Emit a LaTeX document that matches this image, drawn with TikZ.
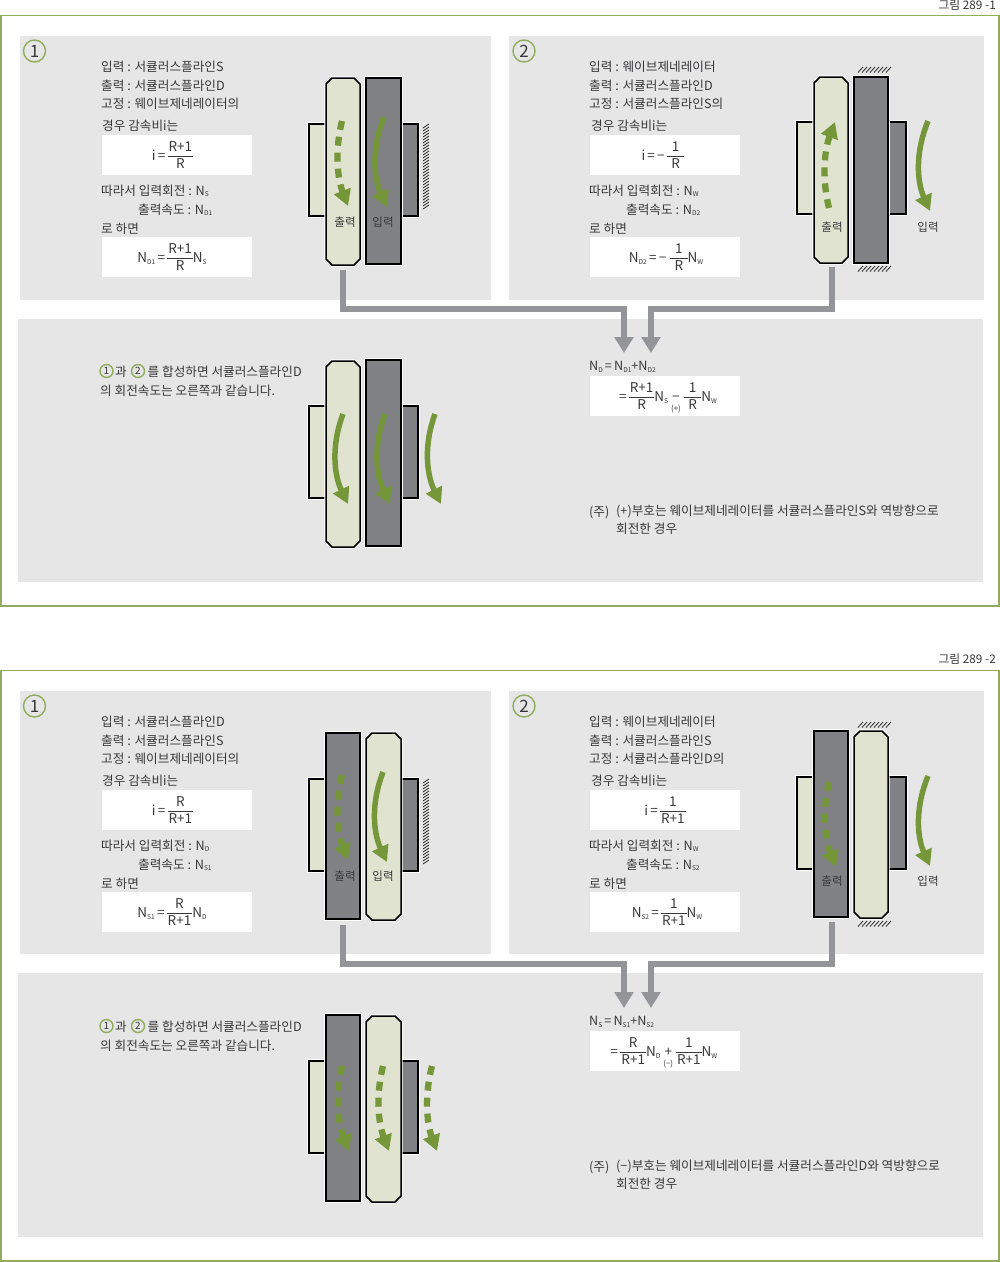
\documentclass[tikz,border=0pt]{standalone}
\usepackage{fontspec}
\setmainfont{Noto Sans CJK KR}
\usetikzlibrary{arrows.meta,calc}
\definecolor{panelgray}{HTML}{E6E6E6}
\definecolor{framegreen}{HTML}{93AB5E}
\definecolor{arrowgreen}{HTML}{76963A}
\definecolor{partlight}{HTML}{E0E3CF}
\definecolor{partdark}{HTML}{808285}
\definecolor{connectgray}{HTML}{939598}
\definecolor{inktext}{HTML}{38383A}
\newcommand\Nn[1]{N\raisebox{-0.15em}{\fontsize{6.6}{6.6}\selectfont #1}}
\newcommand\fr[2]{$\vcenter{\hbox{\renewcommand\arraystretch{1}\arrayrulewidth=0.5pt\begin{tabular}{@{\kern1pt}c@{\kern1pt}}#1\\\hline #2\end{tabular}}}$}
\newcommand\sgn[2]{\kern3pt\mbox{\ooalign{\hfil #1\hfil\cr\hfil\raisebox{-10pt}{\fontsize{8}{8}\selectfont #2}\hfil\cr}}\kern3pt}
\tikzset{
  txt/.style={anchor=west,inner sep=0pt,yshift=-1.5pt,text=inktext,font=\fontsize{12.65}{16}\selectfont,text height=9.5pt,text depth=2.5pt},
  labeltxt/.style={anchor=center,inner sep=0pt,text=inktext,font=\fontsize{11.5}{14}\selectfont},
  formula/.style={anchor=center,inner sep=0pt,yshift=-1.5pt,text=inktext,font=\fontsize{13.5}{16.5}\selectfont},
  panel/.style={fill=panelgray,draw=none},
  whitebox/.style={fill=white,draw=none},
  frameline/.style={draw=framegreen,line width=1.8pt},
  lightpart/.style={fill=partlight,draw=black,line width=1.5pt,line join=miter,preaction={draw=white,line width=3.3pt}},
  darkpart/.style={fill=partdark,draw=black,line width=1.5pt,line join=miter,preaction={draw=white,line width=3.3pt}},
  hatchline/.style={draw=black!85,line width=0.8pt},
  solidturn/.style={draw=arrowgreen,line width=5.5pt,-{Triangle[length=16pt,width=17pt]}},
  dashturn/.style={draw=arrowgreen,line width=6.3pt,dash pattern=on 9pt off 7pt,-{Triangle[length=16pt,width=17pt]}},
  grayconn/.style={draw=connectgray,line width=6pt,line join=miter,-{Triangle[length=16pt,width=18.5pt]}},
  bignum/.style={circle,draw=framegreen,line width=1.4pt,minimum size=22pt,inner sep=0pt,text=inktext,font=\fontsize{17}{17}\selectfont},
  smallnum/.style={circle,draw=framegreen,line width=1.4pt,minimum size=13pt,inner sep=0pt,text=inktext,font=\fontsize{10}{10}\selectfont},
}
% octagon body: x1 y1 x2 y2
\newcommand\octbody[4]{\path[lightpart] (#1+6,#2) -- (#3-6,#2) -- (#3,#2+6) -- (#3,#4-6) -- (#3-6,#4) -- (#1+6,#4) -- (#1,#4-6) -- (#1,#2+6) -- cycle;}
% curved arrow: style, start, tip, bow
\newcommand\turn[6]{\draw[#1] (#2,#3) .. controls ($(#2,#3)!0.33!(#4,#5)+(#6,0)$) and ($(#2,#3)!0.66!(#4,#5)+(#6,0)$) .. (#4,#5);}
% hatch strips: position, start, number of strokes
\newcommand\vhatch[3]{\foreach \h in {0,...,#3}{\draw[hatchline] (#1,#2+3*\h+4) -- (#1+6,#2+3*\h);}}
\newcommand\hhatch[3]{\foreach \h in {0,...,#2}{\draw[hatchline] (#1+4*\h,#3+5.5) -- (#1+4*\h+5,#3);}}
\begin{document}
\begin{tikzpicture}[x=1pt,y=-1pt]
\useasboundingbox (0,0) rectangle (1000,1262);
\fill[white] (0,0) rectangle (1000,1262);

%%%%%%%%%%%%%%%%%% FIGURE 1
\node[anchor=east,inner sep=0pt,text=inktext,font=\fontsize{11.8}{13}\selectfont] (capA) at (996,5) {그림 289 -1};
\draw[frameline] (1,15.5) rectangle (999,606);
\fill[panel] (20,36) rectangle (491,299.5);
\fill[panel] (509,36) rectangle (983.5,299.5);
\fill[panel] (18,318.5) rectangle (983,582);

\node[bignum] (a1) at (34.5,51) {1};
\node[bignum] (a2) at (524,51) {2};

% panel 1 text
\node[txt] (a1t1) at (101,66) {입력 : 서큘러스플라인S};
\node[txt] (a1t2) at (101,85) {출력 : 서큘러스플라인D};
\node[txt] (a1t3) at (101,103) {고정 : 웨이브제네레이터의};
\node[txt] (a1t4) at (102,125.5) {경우 감속비i는};
\fill[whitebox] (101.5,135) rectangle (252,175);
\node[formula] (a1f1) at (172.5,155) {i\,=\,\fr{R+1}{R}};
\node[txt] (a1t5) at (101,190) {따라서 입력회전 : \Nn{S}};
\node[txt] (a1t6) at (138,209) {출력속도 : \Nn{D1}};
\node[txt] (a1t7) at (101,228) {로 하면};
\fill[whitebox] (101.5,237) rectangle (252,277);
\node[formula] (a1f2) at (172,257) {\Nn{D1}\,=\,\fr{R+1}{R}\Nn{S}};

% panel 1 gears
\draw[lightpart] (309,124) rectangle (326,216);
\octbody{326}{78}{360}{265}
\draw[darkpart] (401,124) rectangle (418,216);
\draw[darkpart] (366,78) rectangle (401,264);
\vhatch{423}{124}{27}
\turn{dashturn}{342}{121}{348}{206}{-9}
\turn{solidturn}{384}{117}{387}{207}{-13}
\node[labeltxt] (a1l1) at (345,222) {출력};
\node[labeltxt] (a1l2) at (383,222) {입력};

% panel 2 text
\node[txt] (a2t1) at (589,66) {입력 : 웨이브제네레이터};
\node[txt] (a2t2) at (589,85) {출력 : 서큘러스플라인D};
\node[txt] (a2t3) at (589,103) {고정 : 서큘러스플라인S의};
\node[txt] (a2t4) at (591,125.5) {경우 감속비i는};
\fill[whitebox] (589.5,135) rectangle (740,175);
\node[formula] (a2f1) at (663,155) {i\,=\,−\,\fr{\kern4pt 1\kern4pt}{R}};
\node[txt] (a2t5) at (589,190) {따라서 입력회전 : \Nn{W}};
\node[txt] (a2t6) at (626,209) {출력속도 : \Nn{D2}};
\node[txt] (a2t7) at (589,228) {로 하면};
\fill[whitebox] (589.5,237) rectangle (740,277);
\node[formula] (a2f2) at (666,257) {\Nn{D2}\,=\,−\;\fr{\kern4pt 1\kern4pt}{R}\Nn{W}};

% panel 2 gears
\draw[lightpart] (797,122) rectangle (814,214);
\octbody{814}{77}{848}{263}
\draw[darkpart] (888,122) rectangle (906,214);
\draw[darkpart] (854,77) rectangle (888,263);
\hhatch{858}{7}{67}
\hhatch{858}{7}{266}
\turn{dashturn}{829}{208}{835}{122}{-9}
\turn{solidturn}{928}{121}{930}{211}{-13}
\node[labeltxt] (a2l1) at (832,227) {출력};
\node[labeltxt] (a2l2) at (928,227) {입력};

% connectors
\coordinate (a1out) at (342.5,270);
\coordinate (a1in) at (624,353);
\coordinate (a2out) at (831.5,267);
\coordinate (a2in) at (651,353);
\draw[grayconn] (a1out) |- (624,309) -- (a1in);
\draw[grayconn] (a2out) |- (651,309) -- (a2in);

% bottom panel
\node[smallnum] (a3n1) at (106.5,371) {1};
\node[txt] (a3t0) at (115,371) {과};
\node[smallnum] (a3n2) at (138,371) {2};
\node[txt] (a3t1) at (147.5,371) {를 합성하면 서큘러스플라인D};
\node[txt] (a3t2) at (100,390) {의 회전속도는 오른쪽과 같습니다.};
\draw[lightpart] (309,406) rectangle (326,498);
\octbody{326}{361}{360}{547}
\draw[darkpart] (401,406) rectangle (418,498);
\draw[darkpart] (366,360) rectangle (401,546);
\turn{solidturn}{343}{414}{348}{504}{-13}
\turn{solidturn}{385}{414}{390}{504}{-13}
\turn{solidturn}{435}{414}{441}{504}{-13}

\node[txt] (a3f0) at (589,365.5) {\Nn{D}\,=\,\Nn{D1}+\Nn{D2}};
\fill[whitebox] (589.5,375.5) rectangle (740,416);
\node[formula] (a3f1) at (668,396) {=\,\fr{R+1}{R}\Nn{S}\sgn{−}{(+)}\fr{\kern4pt 1\kern4pt}{R}\Nn{W}};
\node[txt] (a3n) at (589,511) {(주)};
\node[txt] (a3c1) at (616,510) {(+)부호는 웨이브제네레이터를 서큘러스플라인S와 역방향으로};
\node[txt] (a3c2) at (616,528) {회전한 경우};

%%%%%%%%%%%%%%%%%% FIGURE 2
\begin{scope}[yshift=-655pt]
\node[anchor=east,inner sep=0pt,text=inktext,font=\fontsize{11.8}{13}\selectfont] (capB) at (996,4.5) {그림 289 -2};
\draw[frameline] (1,15.5) rectangle (999,606);
\fill[panel] (20,36) rectangle (491,299);
\fill[panel] (509,36) rectangle (983.5,299);
\fill[panel] (18,318) rectangle (983,582);

\node[bignum] (b1) at (34.5,51) {1};
\node[bignum] (b2) at (524,51) {2};

\node[txt] (b1t1) at (101,66) {입력 : 서큘러스플라인D};
\node[txt] (b1t2) at (101,85) {출력 : 서큘러스플라인S};
\node[txt] (b1t3) at (101,103) {고정 : 웨이브제네레이터의};
\node[txt] (b1t4) at (102,125.5) {경우 감속비i는};
\fill[whitebox] (101.5,135) rectangle (252,175);
\node[formula] (b1f1) at (172.5,155) {i\,=\,\fr{R}{R+1}};
\node[txt] (b1t5) at (101,190) {따라서 입력회전 : \Nn{D}};
\node[txt] (b1t6) at (138,209) {출력속도 : \Nn{S1}};
\node[txt] (b1t7) at (101,228) {로 하면};
\fill[whitebox] (101.5,237) rectangle (252,277);
\node[formula] (b1f2) at (172,257) {\Nn{S1}\,=\,\fr{R}{R+1}\Nn{D}};

\draw[lightpart] (309,124) rectangle (326,216);
\draw[darkpart] (326,78) rectangle (360,264);
\draw[darkpart] (401,124) rectangle (418,216);
\octbody{366}{78}{401}{265}
\vhatch{423}{124}{27}
\turn{dashturn}{342}{120}{348}{205}{-9}
\turn{solidturn}{383}{117}{387}{207}{-13}
\node[labeltxt] (b1l1) at (345,221) {출력};
\node[labeltxt] (b1l2) at (383,221) {입력};

\node[txt] (b2t1) at (589,66) {입력 : 웨이브제네레이터};
\node[txt] (b2t2) at (589,85) {출력 : 서큘러스플라인S};
\node[txt] (b2t3) at (589,103) {고정 : 서큘러스플라인D의};
\node[txt] (b2t4) at (591,125.5) {경우 감속비i는};
\fill[whitebox] (589.5,135) rectangle (740,175);
\node[formula] (b2f1) at (665,155) {i\,=\,\fr{1}{R+1}};
\node[txt] (b2t5) at (589,190) {따라서 입력회전 : \Nn{W}};
\node[txt] (b2t6) at (626,209) {출력속도 : \Nn{S2}};
\node[txt] (b2t7) at (589,228) {로 하면};
\fill[whitebox] (589.5,237) rectangle (740,277);
\node[formula] (b2f2) at (667,257) {\Nn{S2}\,=\,\fr{1}{R+1}\Nn{W}};

\draw[lightpart] (797,122) rectangle (814,214);
\draw[darkpart] (814,76) rectangle (848,262);
\draw[darkpart] (888,122) rectangle (906,214);
\octbody{854}{76}{888}{263}
\hhatch{858}{7}{67}
\hhatch{858}{7}{266}
\turn{dashturn}{829}{127}{836}{212}{-9}
\turn{solidturn}{928}{121}{930}{211}{-13}
\node[labeltxt] (b2l1) at (832,226) {출력};
\node[labeltxt] (b2l2) at (928,226) {입력};

\coordinate (b1out) at (342.5,270);
\coordinate (b1in) at (624,353);
\coordinate (b2out) at (831.5,267);
\coordinate (b2in) at (651,353);
\draw[grayconn] (b1out) |- (624,309) -- (b1in);
\draw[grayconn] (b2out) |- (651,309) -- (b2in);

\node[smallnum] (b3n1) at (106.5,371) {1};
\node[txt] (b3t0) at (115,371) {과};
\node[smallnum] (b3n2) at (138,371) {2};
\node[txt] (b3t1) at (147.5,371) {를 합성하면 서큘러스플라인D};
\node[txt] (b3t2) at (100,390) {의 회전속도는 오른쪽과 같습니다.};
\draw[lightpart] (309,406) rectangle (326,498);
\draw[darkpart] (326,360) rectangle (360,546);
\draw[darkpart] (401,406) rectangle (418,498);
\octbody{366}{361}{401}{547}
\turn{dashturn}{342}{411}{349}{496}{-9}
\turn{dashturn}{383}{411}{389}{496}{-9}
\turn{dashturn}{432}{411}{437}{496}{-9}

\node[txt] (b3f0) at (589,365.5) {\Nn{S}\,=\,\Nn{S1}+\Nn{S2}};
\fill[whitebox] (589.5,375.5) rectangle (740,416);
\node[formula] (b3f1) at (664,396) {=\,\fr{R}{R+1}\Nn{D}\sgn{+}{(−)}\fr{1}{R+1}\Nn{W}};
\node[txt] (b3n) at (589,511) {(주)};
\node[txt] (b3c1) at (616,510) {(−)부호는 웨이브제네레이터를 서큘러스플라인D와 역방향으로};
\node[txt] (b3c2) at (616,528) {회전한 경우};
\end{scope}
\end{tikzpicture}
\end{document}
